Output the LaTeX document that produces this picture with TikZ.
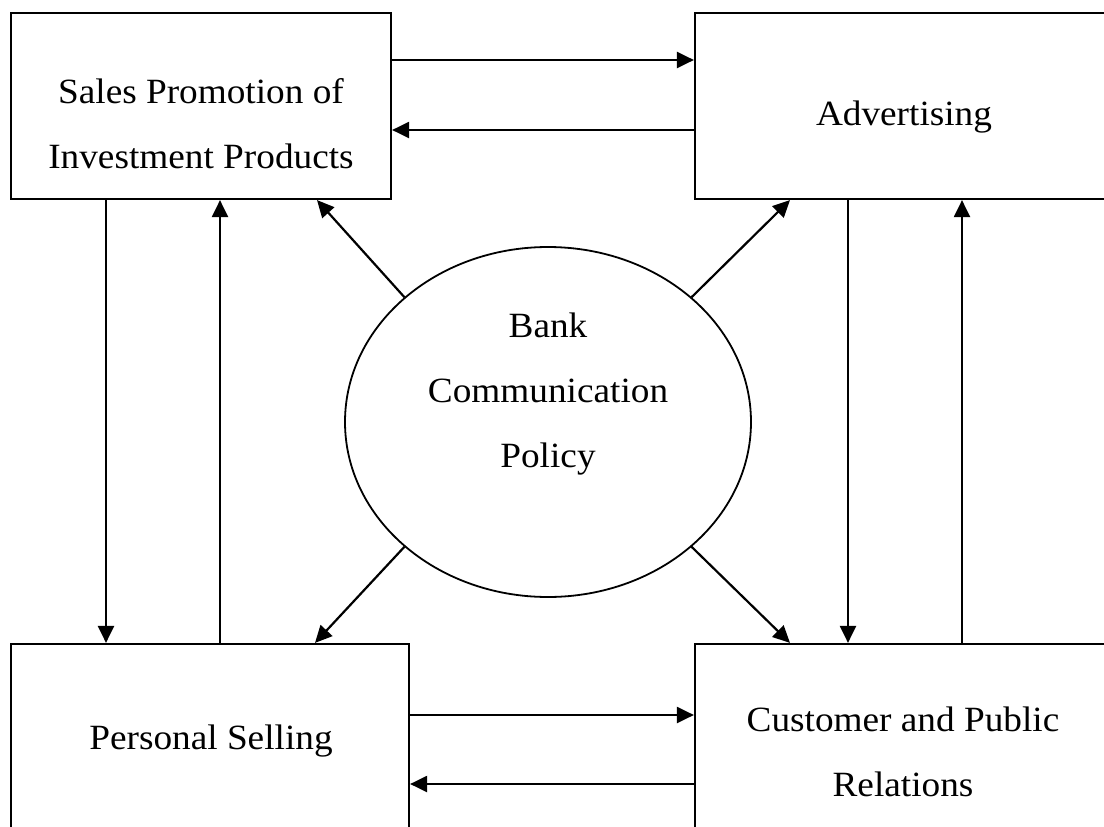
\documentclass[tikz,border=0pt]{standalone}
\usepackage{fontspec}
\setmainfont{Liberation Serif}[FakeStretch=1.05]
\usetikzlibrary{arrows.meta,shapes.geometric}
\begin{document}
\begin{tikzpicture}[x=1pt,y=-1pt,
  box/.style={draw, line width=2.2pt, fill=white, inner sep=0pt},
  oval/.style={draw, ellipse, line width=1.8pt, fill=white, inner sep=0pt},
  lbl/.style={align=center, inner sep=0pt, font=\fontsize{35.5}{65}\selectfont},
  arr/.style={line width=2.2pt, -{Triangle[length=17pt,width=16pt]}}]
\useasboundingbox (0,0) rectangle (1104,827);
\clip (0,0) rectangle (1104,827);
\fill[white] (0,0) rectangle (1104,827);
\node[box, minimum width=380pt, minimum height=186pt] (b1) at (201,106) {};
\node[box, minimum width=419pt, minimum height=186pt] (b2) at (904.5,106) {};
\node[box, minimum width=398pt, minimum height=188pt] (b3) at (210,738) {};
\node[box, minimum width=419pt, minimum height=216pt] (b4) at (904.5,752) {};
\node[oval, minimum width=406pt, minimum height=350pt] (e) at (548,422) {};
\node[lbl] (t1) at (201,124) {Sales Promotion of\\Investment Products};
\node[lbl] (t2) at (904,117) {Advertising};
\node[lbl] (t3) at (211,741) {Personal Selling};
\node[lbl] (t4) at (903,752) {Customer and Public\\Relations};
\node[lbl] (t5) at (548,394) {Bank\\Communication\\Policy};
\draw[arr] (b1.east |- 0,60) -- (b2.west |- 0,60);
\draw[arr] (b2.west |- 0,130) -- (b1.east |- 0,130);
\draw[arr] (b3.east |- 0,715) -- (b4.west |- 0,715);
\draw[arr] (b4.west |- 0,784) -- (b3.east |- 0,784);
\draw[arr] (b1.south -| 106,0) -- (b3.north -| 106,0);
\draw[arr] (b3.north -| 220,0) -- (b1.south -| 220,0);
\draw[arr] (b2.south -| 848,0) -- (b4.north -| 848,0);
\draw[arr] (b4.north -| 962,0) -- (b2.south -| 962,0);
\draw[arr] (e.139) -- (b1.south -| 317,0);
\draw[arr] (e.41) -- (b2.south -| 790,0);
\draw[arr] (e.221) -- (b3.north -| 315,0);
\draw[arr] (e.319) -- (b4.north -| 790,0);
\end{tikzpicture}
\end{document}
